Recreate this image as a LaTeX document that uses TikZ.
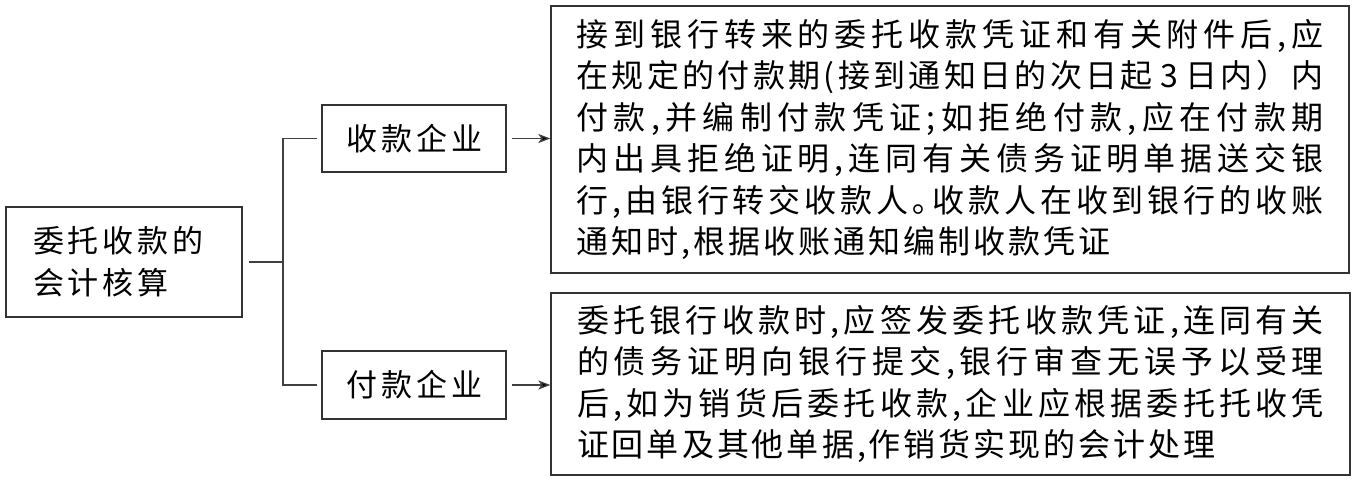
\documentclass[tikz,border=0pt]{standalone}
\usepackage{fontspec}
\newfontfamily\cjk{Noto Sans CJK SC}
\usetikzlibrary{arrows.meta}
\makeatletter
\newdimen\csep
\def\spr#1{\spr@a#1\@nil}
\def\spr@a#1{\ifx#1\@nil\else#1\expandafter\spr@b\fi}
\def\spr@b#1{\ifx#1\@nil\else\hskip\csep plus 1fil\relax#1\expandafter\spr@b\fi}
\makeatother
\newcommand\jl[1]{\makebox[747pt][s]{\spr{#1}}}
\newcommand\nl[1]{\mbox{\spr{#1}}}
\newcommand\three{\makebox[26pt]{3}}
\begin{document}
\begin{tikzpicture}[x=1pt,y=-1pt,
  box/.style={draw=black!80, line width=1.3pt, inner sep=0pt},
  conn/.style={draw=black!75, line width=1.3pt},
  arr/.style={conn, -{Stealth[length=12pt,width=9pt,inset=3pt,fill=black]}},
  bigtxt/.style={font=\cjk\fontsize{32pt}{41.5pt}\selectfont, text width=747pt, align=left},
  midtxt/.style={font=\cjk\fontsize{31pt}{42pt}\selectfont}]
\useasboundingbox (0,0) rectangle (1356,482);
\node[box, midtxt, minimum width=236pt, minimum height=110pt, text width=182pt, align=left] (L) at (124,262)
  {\noindent\csep=4pt\nl{委托收款的}\\\nl{会计核算}};
\node[box, midtxt, minimum width=184pt, minimum height=67pt] (A) at (414,138.5)
  {\csep=4pt\nl{收款企业}};
\node[box, midtxt, minimum width=184pt, minimum height=68pt] (B) at (414,385)
  {\csep=4pt\nl{付款企业}};
\node[box, bigtxt, minimum width=798pt, minimum height=267pt] (R1) at (950,139.5)
  {\noindent\csep=3pt%
   \jl{接到银行转来的委托收款凭证和有关附件后,应}\\
   \jl{在规定的付款期(接到通知日的次日起\three 日内）内}\\
   \jl{付款,并编制付款凭证;如拒绝付款,应在付款期}\\
   \jl{内出具拒绝证明,连同有关债务证明单据送交银}\\
   \jl{行,由银行转交收款人｡收款人在收到银行的收账}\\
   \nl{通知时,根据收账通知编制收款凭证}};
\node[box, bigtxt, minimum width=799pt, minimum height=182pt] (R2) at (950.5,384)
  {\noindent\csep=3pt%
   \jl{委托银行收款时,应签发委托收款凭证,连同有关}\\
   \jl{的债务证明向银行提交,银行审查无误予以受理}\\
   \jl{后,如为销货后委托收款,企业应根据委托托收凭}\\
   \nl{证回单及其他单据,作销货实现的会计处理}};
\coordinate (J) at (283,262);
\draw[conn] ([xshift=6pt]L.east) -- (J);
\draw[conn] ([xshift=-4pt]A.west) -| (J) |- ([xshift=-4pt]B.west);
\draw[arr] ([xshift=5pt]A.east) -- (A.east -| R1.west);
\draw[arr] ([xshift=5pt]B.east) -- (B.east -| R2.west);
\end{tikzpicture}
\end{document}
